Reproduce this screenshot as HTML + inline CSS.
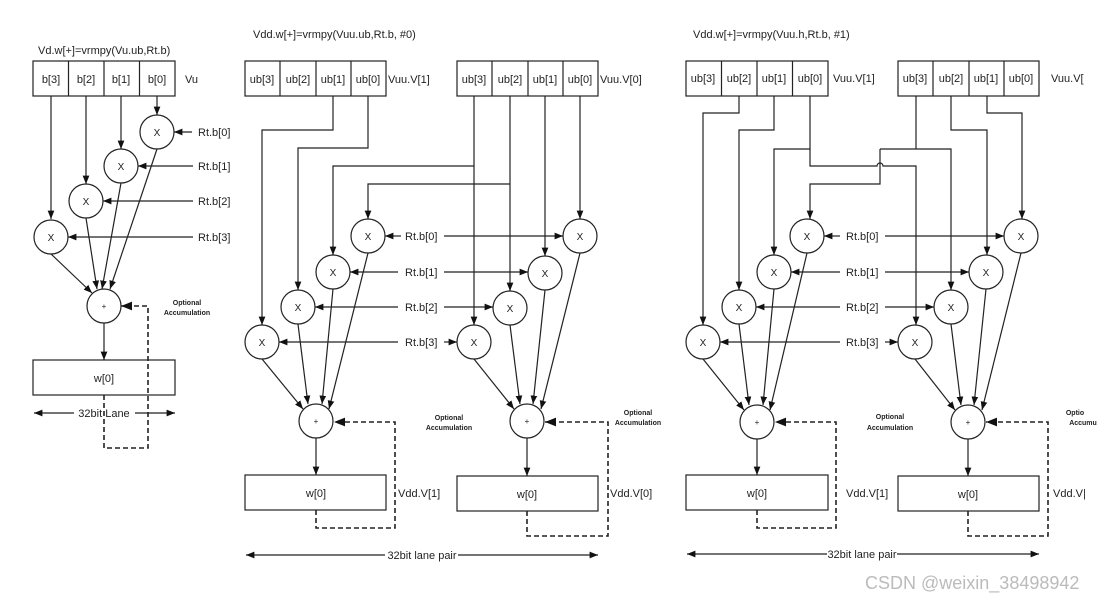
<!DOCTYPE html>
<html><head><meta charset="utf-8"><style>
html,body{margin:0;padding:0;background:#fff;}
svg{display:block;}
text{font-family:"Liberation Sans",sans-serif;fill:#222;}
.t{font-size:11px;}
.s{font-size:7px;font-weight:bold;}
</style></head><body>
<svg width="1111" height="603" viewBox="0 0 1111 603" xmlns="http://www.w3.org/2000/svg">
<defs>
<marker id="a" viewBox="0 0 10 10" refX="10" refY="5" markerWidth="7" markerHeight="7" orient="auto"><path d="M0,1 L10,5 L0,9z" fill="#111"/></marker>
</defs>
<g stroke="#222" stroke-width="1.2" fill="none">
<!-- PANEL 1 -->
<rect x="33" y="61" width="142" height="35"/>
<path d="M68.5,61V96M104,61V96M139.5,61V96"/>
<g marker-end="url(#a)">
<path d="M51,96V219"/><path d="M86,96V184"/><path d="M121,96V149"/><path d="M157,96V115"/>
<path d="M192,132H174"/><path d="M193,166H138"/><path d="M193,201H103"/><path d="M193,237H68"/>
<path d="M51,254L92,293"/><path d="M86,218L97,289"/><path d="M121,183L102,289"/><path d="M157,149L110,289"/>
<path d="M104,323V360"/>
<path d="M74,413H34"/><path d="M135,413H175"/>
</g>
<circle cx="157" cy="132" r="17"/><circle cx="121" cy="166" r="17"/><circle cx="86" cy="201" r="17"/><circle cx="51" cy="237" r="17"/>
<circle cx="104" cy="306" r="17"/>
<rect x="33" y="360" width="142" height="35"/>
<path d="M104,395V448H148V306H121" stroke-dasharray="5,3" stroke-width="1.6" marker-end="url(#a)"/>
<!-- PANEL 2 -->
<rect x="245" y="61" width="141" height="35"/>
<path d="M280,61V96M316,61V96M351,61V96"/>
<rect x="457" y="61" width="141" height="35"/>
<path d="M492,61V96M528,61V96M563,61V96"/>
<g marker-end="url(#a)">
<path d="M333,96V130H262V325"/>
<path d="M368,96V148H298V290"/>
<path d="M474,96V325"/>
<path d="M474,166H333V255"/>
<path d="M510,96V291"/>
<path d="M510,184H368V219"/>
<path d="M545,96V256"/><path d="M580,96V219"/>
<path d="M401,236H385"/><path d="M398,272H350"/><path d="M398,307H315"/><path d="M398,342H279"/>
<path d="M444,236H563"/><path d="M444,272H528"/><path d="M444,307H493"/><path d="M444,342H457"/>
<path d="M262,359L303,409"/><path d="M298,324L308,404"/><path d="M333,289L322,404"/><path d="M368,253L329,409"/>
<path d="M474,359L514,409"/><path d="M510,325L520,404"/><path d="M545,290L533,404"/><path d="M580,253L541,409"/>
<path d="M316,438V475"/><path d="M527,438V476"/>
<path d="M385,555H246"/><path d="M458,555H598"/>
</g>
<circle cx="368" cy="236" r="17"/><circle cx="333" cy="272" r="17"/><circle cx="298" cy="307" r="17"/><circle cx="262" cy="342" r="17"/>
<circle cx="580" cy="236" r="17"/><circle cx="545" cy="273" r="17"/><circle cx="510" cy="308" r="17"/><circle cx="474" cy="342" r="17"/>
<circle cx="316" cy="421" r="17"/><circle cx="527" cy="421" r="17"/>
<rect x="245" y="475" width="141" height="35"/>
<rect x="457" y="476" width="141" height="35"/>
<path d="M316,510V528H395V422H334" stroke-dasharray="5,3" stroke-width="1.6" marker-end="url(#a)"/>
<path d="M527,511V536H608V422H545" stroke-dasharray="5,3" stroke-width="1.6" marker-end="url(#a)"/>
<!-- PANEL 3 -->
<rect x="686" y="61" width="142" height="35"/>
<path d="M721.5,61V96M757,61V96M792.5,61V96"/>
<rect x="898" y="61" width="141" height="35"/>
<path d="M933,61V96M969,61V96M1004,61V96"/>
<path d="M916,96V149"/>
<g marker-end="url(#a)">
<path d="M739,96V113H703V325"/>
<path d="M774,96V130H739V290"/>
<path d="M810,96V166H877a3,3 0 0 1 6,0H916V325"/>
<path d="M810,149H774V255"/>
<path d="M880,149H951V290"/>
<path d="M880,149V184H810V219"/>
<path d="M951,96V130H987V255"/>
<path d="M987,96V113H1022V219"/>
<path d="M840,236H824"/><path d="M840,272H791"/><path d="M840,307H756"/><path d="M840,342H720"/>
<path d="M885,236H1004"/><path d="M885,272H969"/><path d="M885,307H934"/><path d="M885,342H898"/>
<path d="M703,359L744,410"/><path d="M739,324L749,405"/><path d="M774,289L763,405"/><path d="M807,253L770,410"/>
<path d="M915,359L955,410"/><path d="M951,324L961,405"/><path d="M986,289L974,405"/><path d="M1021,253L982,410"/>
<path d="M757,439V475"/><path d="M968,439V476"/>
<path d="M827,554H687"/><path d="M897,554H1039"/>
</g>
<circle cx="807" cy="236" r="17"/><circle cx="774" cy="272" r="17"/><circle cx="739" cy="307" r="17"/><circle cx="703" cy="342" r="17"/>
<circle cx="1021" cy="236" r="17"/><circle cx="986" cy="272" r="17"/><circle cx="951" cy="307" r="17"/><circle cx="915" cy="342" r="17"/>
<circle cx="757" cy="422" r="17"/><circle cx="968" cy="422" r="17"/>
<rect x="686" y="475" width="142" height="35"/>
<rect x="898" y="476" width="141" height="35"/>
<path d="M757,510V528H836V422H775" stroke-dasharray="5,3" stroke-width="1.6" marker-end="url(#a)"/>
<path d="M968,511V536H1048V422H986" stroke-dasharray="5,3" stroke-width="1.6" marker-end="url(#a)"/>
</g>
<g class="t">
<text x="38" y="54">Vd.w[+]=vrmpy(Vu.ub,Rt.b)</text>
<g text-anchor="middle"><text x="51" y="83">b[3]</text><text x="86" y="83">b[2]</text><text x="121" y="83">b[1]</text><text x="157" y="83">b[0]</text></g>
<text x="185" y="83">Vu</text>
<text x="198" y="136">Rt.b[0]</text><text x="198" y="170">Rt.b[1]</text><text x="198" y="205">Rt.b[2]</text><text x="198" y="241">Rt.b[3]</text>
<g text-anchor="middle" font-size="10"><text x="157" y="136">X</text><text x="121" y="170">X</text><text x="86" y="205">X</text><text x="51" y="241">X</text><text x="104" y="309" font-size="8">+</text></g>
<text x="104" y="382" text-anchor="middle">w[0]</text>
<text x="104" y="417" text-anchor="middle">32bit Lane</text>

<text x="253" y="38">Vdd.w[+]=vrmpy(Vuu.ub,Rt.b, #0)</text>
<g text-anchor="middle"><text x="262" y="83">ub[3]</text><text x="298" y="83">ub[2]</text><text x="333" y="83">ub[1]</text><text x="368" y="83">ub[0]</text>
<text x="474" y="83">ub[3]</text><text x="510" y="83">ub[2]</text><text x="545" y="83">ub[1]</text><text x="580" y="83">ub[0]</text></g>
<text x="388" y="83">Vuu.V[1]</text><text x="600" y="83">Vuu.V[0]</text>
<text x="405" y="240">Rt.b[0]</text><text x="405" y="276">Rt.b[1]</text><text x="405" y="311">Rt.b[2]</text><text x="405" y="346">Rt.b[3]</text>
<g text-anchor="middle" font-size="10"><text x="368" y="240">X</text><text x="333" y="276">X</text><text x="298" y="311">X</text><text x="262" y="346">X</text>
<text x="580" y="240">X</text><text x="545" y="277">X</text><text x="510" y="312">X</text><text x="474" y="346">X</text>
<text x="316" y="424" font-size="8">+</text><text x="527" y="424" font-size="8">+</text></g>
<text x="316" y="497" text-anchor="middle">w[0]</text><text x="527" y="498" text-anchor="middle">w[0]</text>
<text x="398" y="497">Vdd.V[1]</text><text x="610" y="497">Vdd.V[0]</text>
<text x="422" y="559" text-anchor="middle">32bit lane pair</text>

<text x="693" y="38">Vdd.w[+]=vrmpy(Vuu.h,Rt.b, #1)</text>
<g text-anchor="middle"><text x="703" y="82">ub[3]</text><text x="739" y="82">ub[2]</text><text x="774" y="82">ub[1]</text><text x="810" y="82">ub[0]</text>
<text x="915" y="82">ub[3]</text><text x="951" y="82">ub[2]</text><text x="986" y="82">ub[1]</text><text x="1021" y="82">ub[0]</text></g>
<text x="833" y="82">Vuu.V[1]</text><text x="1051" y="82">Vuu.V[</text>
<text x="846" y="240">Rt.b[0]</text><text x="846" y="276">Rt.b[1]</text><text x="846" y="311">Rt.b[2]</text><text x="846" y="346">Rt.b[3]</text>
<g text-anchor="middle" font-size="10"><text x="807" y="240">X</text><text x="774" y="276">X</text><text x="739" y="311">X</text><text x="703" y="346">X</text>
<text x="1021" y="240">X</text><text x="986" y="276">X</text><text x="951" y="311">X</text><text x="915" y="346">X</text>
<text x="757" y="425" font-size="8">+</text><text x="968" y="425" font-size="8">+</text></g>
<text x="757" y="497" text-anchor="middle">w[0]</text><text x="968" y="498" text-anchor="middle">w[0]</text>
<text x="846" y="497">Vdd.V[1]</text><text x="1053" y="497">Vdd.V|</text>
<text x="862" y="558" text-anchor="middle">32bit lane pair</text>
</g>
<g class="s" text-anchor="middle">
<text x="187" y="305">Optional</text><text x="187" y="315">Accumulation</text>
<text x="449" y="420">Optional</text><text x="449" y="430">Accumulation</text>
<text x="638" y="415">Optional</text><text x="638" y="425">Accumulation</text>
<text x="890" y="419">Optional</text><text x="890" y="430">Accumulation</text>
<text x="1075" y="415">Optio</text><text x="1083" y="425">Accumu</text>
</g>
<text x="865" y="589" font-size="18" style="fill:#bbb">CSDN @weixin_38498942</text>
</svg>
</body></html>
